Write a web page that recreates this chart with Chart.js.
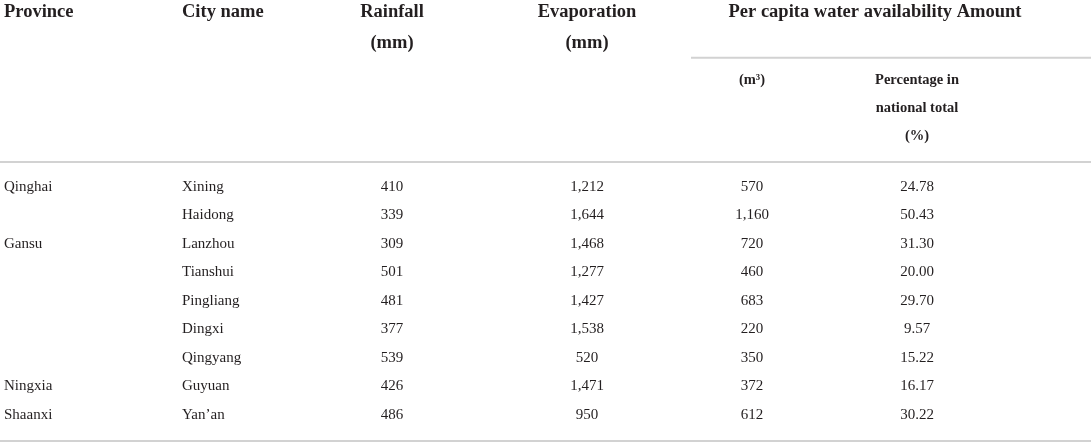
<!DOCTYPE html>
<html>
<head>
<meta charset="utf-8">
<script src="https://cdn.jsdelivr.net/npm/chart.js@4.4.0/dist/chart.umd.min.js"></script>
<style>
html, body { margin: 0; padding: 0; background: #fff; }
#wrap { width: 1091px; height: 445px; position: relative; }
</style>
</head>
<body>
<div id="wrap"><canvas id="tabela"></canvas></div>
<script>
// dados da tabela
var provinces = ['Qinghai', '', 'Gansu', '', '', '', '', 'Ningxia', 'Shaanxi'];
var cities = ['Xining', 'Haidong', 'Lanzhou', 'Tianshui', 'Pingliang', 'Dingxi', 'Qingyang', 'Guyuan', 'Yan\u2019an'];
var rainfall = [410, 339, 309, 501, 481, 377, 539, 426, 486];
var evaporation = [1212, 1644, 1468, 1277, 1427, 1538, 520, 1471, 950];
var waterPerCapita = [570, 1160, 720, 460, 683, 220, 350, 372, 612];
var percentNational = [24.78, 50.43, 31.30, 20.00, 29.70, 9.57, 15.22, 16.17, 30.22];

// textos do cabeçalho
var headerTop = ['Province', 'City name', 'Rainfall', 'Evaporation', 'Per capita water availability Amount'];
var headerUnits = ['', '', '(mm)', '(mm)', ''];
var subHeaderM3 = ['(m\u00b3)'];
var subHeaderPct = ['Percentage in', 'national total', '(%)'];

// layout (posição horizontal de cada coluna, em px da escala x)
var colX = [4, 182, 392, 587, 752, 917];
var colAlign = ['left', 'left', 'center', 'center', 'center', 'center'];
var groupX = 875;

var fmtInt = function (v) { return v.toLocaleString('en-US'); };
var fmtPct = function (v) { return v.toFixed(2); };

var columns = [
  provinces,
  cities,
  rainfall.map(fmtInt),
  evaporation.map(fmtInt),
  waterPerCapita.map(fmtInt),
  percentNational.map(fmtPct)
];

var bodyFont = '15px "Liberation Serif", "DejaVu Serif", serif';
var headFont = 'bold 18.5px "Liberation Serif", "DejaVu Serif", serif';
var subFont = 'bold 14.5px "Liberation Serif", "DejaVu Serif", serif';
var textColor = '#231f20';
var ruleColor = '#d2d2d2';

// linhas da tabela em unidades de linha
var rowUnit = function (i) { return i; };
var ROW_HEAD1 = -6.13, ROW_HEAD2 = -5.04;
var ROW_SUB = [-3.74, -2.76, -1.78];
var RULE_SUB = -4.52, RULE_HEAD = -0.87, RULE_BOTTOM = 8.92;

var datasets = [];

// células do corpo
columns.forEach(function (col, c) {
  datasets.push({
    data: col.map(function (t, i) { return { x: colX[c], y: rowUnit(i) }; }),
    textos: col, font: bodyFont, align: colAlign[c], pointRadius: 0
  });
});

// cabeçalho principal
var topX = colX.slice(0, 4).concat([groupX]);
datasets.push({
  data: headerTop.map(function (t, c) { return { x: topX[c], y: ROW_HEAD1 }; }),
  textos: headerTop, font: headFont, aligns: colAlign.slice(0, 4).concat(['center']), pointRadius: 0
});
datasets.push({
  data: headerUnits.map(function (t, c) { return { x: topX[c], y: ROW_HEAD2 }; }),
  textos: headerUnits, font: headFont, aligns: colAlign.slice(0, 4).concat(['center']), pointRadius: 0
});
// sub cabeçalho
datasets.push({
  data: subHeaderM3.map(function (t, i) { return { x: colX[4], y: ROW_SUB[i] }; }),
  textos: subHeaderM3, font: subFont, align: 'center', pointRadius: 0
});
datasets.push({
  data: subHeaderPct.map(function (t, i) { return { x: colX[5], y: ROW_SUB[i] }; }),
  textos: subHeaderPct, font: subFont, align: 'center', pointRadius: 0
});

// linhas horizontais
function regua(x0, x1, y) {
  return {
    data: [{ x: x0, y: y }, { x: x1, y: y }],
    showLine: true, borderColor: ruleColor, borderWidth: 2, pointRadius: 0
  };
}
datasets.push(regua(691, 1091, RULE_SUB));
datasets.push(regua(0, 1091, RULE_HEAD));
datasets.push(regua(0, 1091, RULE_BOTTOM));

// plugin para escrever o texto de cada célula
var textoCelulas = {
  id: 'textoCelulas',
  afterDatasetsDraw: function (chart) {
    var ctx = chart.ctx;
    ctx.save();
    ctx.fillStyle = textColor;
    ctx.textBaseline = 'middle';
    chart.data.datasets.forEach(function (ds, d) {
      if (!ds.textos) return;
      ctx.font = ds.font;
      chart.getDatasetMeta(d).data.forEach(function (pt, j) {
        ctx.textAlign = ds.aligns ? ds.aligns[j] : ds.align;
        ctx.fillText(ds.textos[j], pt.x, pt.y);
      });
    });
    ctx.restore();
  }
};

var chart = new Chart(document.getElementById('tabela'), {
  type: 'scatter',
  data: { datasets: datasets },
  options: {
    responsive: true,
    maintainAspectRatio: false,
    animation: false,
    events: [],
    layout: { padding: 0 },
    scales: {
      x: { type: 'linear', min: 0, max: 1091, display: false },
      y: { type: 'linear', min: -6.55, max: 9.06, reverse: true, display: false }
    },
    plugins: {
      legend: { display: false },
      tooltip: { enabled: false }
    }
  },
  plugins: [textoCelulas]
});
</script>
</body>
</html>
